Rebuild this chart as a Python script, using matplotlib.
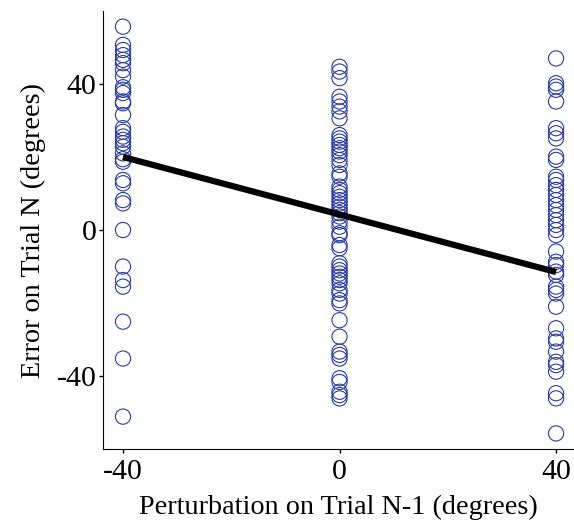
import matplotlib
matplotlib.use("Agg")
import matplotlib.pyplot as plt
import numpy as np

plt.rcParams['font.family'] = ['Liberation Serif', 'DejaVu Serif']
plt.rcParams['axes.unicode_minus'] = False

# Data
err_m40 = [55.7, 50.7, 49.3, 47.9, 46.6, 45.7, 43.8, 42.0, 39.1, 38.4, 37.5, 35.2, 34.7,
           31.5, 27.9, 26.9, 25.6, 24.7, 23.8, 22.8, 21.0, 19.4, 18.7, 13.7, 12.8, 8.2,
           7.3, 0.0, -10.0, -13.7, -15.5, -25.1, -35.2, -51.1]
err_0 = [44.7, 43.4, 41.6, 36.5, 35.2, 33.8, 32.5, 30.6, 26.0, 25.1, 24.2, 23.3, 22.4,
         21.5, 20.5, 19.2, 17.8, 15.5, 14.6, 11.9, 11.0, 10.1, 9.1, 8.2, 7.3, 6.4, 5.5,
         4.6, 3.7, 2.3, 0.9, -0.9, -1.4, -4.1, -5.0, -9.1, -10.0, -11.0, -11.9, -12.8,
         -13.7, -14.6, -16.4, -17.4, -19.2, -20.1, -24.7, -29.2, -33.3, -34.2, -35.2,
         -40.6, -41.6, -44.3, -45.2, -46.1]
err_40 = [47.0, 40.2, 39.3, 38.4, 35.2, 27.9, 26.5, 25.1, 20.1, 19.2, 14.6, 13.7, 12.3,
          11.0, 9.6, 8.2, 6.8, 5.5, 4.1, 2.7, 1.4, 0.0, -1.4, -5.9, -8.7, -9.6, -11.4,
          -12.3, -15.5, -16.4, -17.4, -21.0, -26.9, -29.7, -30.6, -33.3, -36.1, -37.0,
          -38.8, -44.7, -46.1, -55.7]
perturbations = [-40, 0, 40]
fit_x = [-40, 40]
fit_y = [20.0, -11.5]
x_ticks = [-40, 0, 40]
y_ticks = [-40, 0, 40]

fig = plt.figure(figsize=(5.74, 5.21), dpi=100)
ax = fig.add_axes([0.1794, 0.138, 0.8186, 0.841])

for p, errs in zip(perturbations, [err_m40, err_0, err_40]):
    ax.scatter([p] * len(errs), errs, s=120, facecolors='none',
               edgecolors='#2a3c9e', linewidths=0.8, zorder=2)

ax.plot(fit_x, fit_y, color='black', linewidth=4.5, solid_capstyle='butt', zorder=3)

ax.set_xlim(-43.7, 43.1)
ax.set_ylim(-60, 60)
ax.set_xticks(x_ticks)
ax.set_yticks(y_ticks)
ax.spines['top'].set_visible(False)
ax.spines['right'].set_visible(False)
ax.tick_params(direction='out', length=3, width=1, labelsize=21.5)
ax.tick_params(axis='y', pad=1.5)
ax.tick_params(axis='x', pad=4)
ax.set_xlabel('Perturbation on Trial N-1 (degrees)', fontsize=20.3, labelpad=7)
ax.set_ylabel('Error on Trial N (degrees)', fontsize=20.3, labelpad=8)

fig.savefig('out.png', dpi=100)
